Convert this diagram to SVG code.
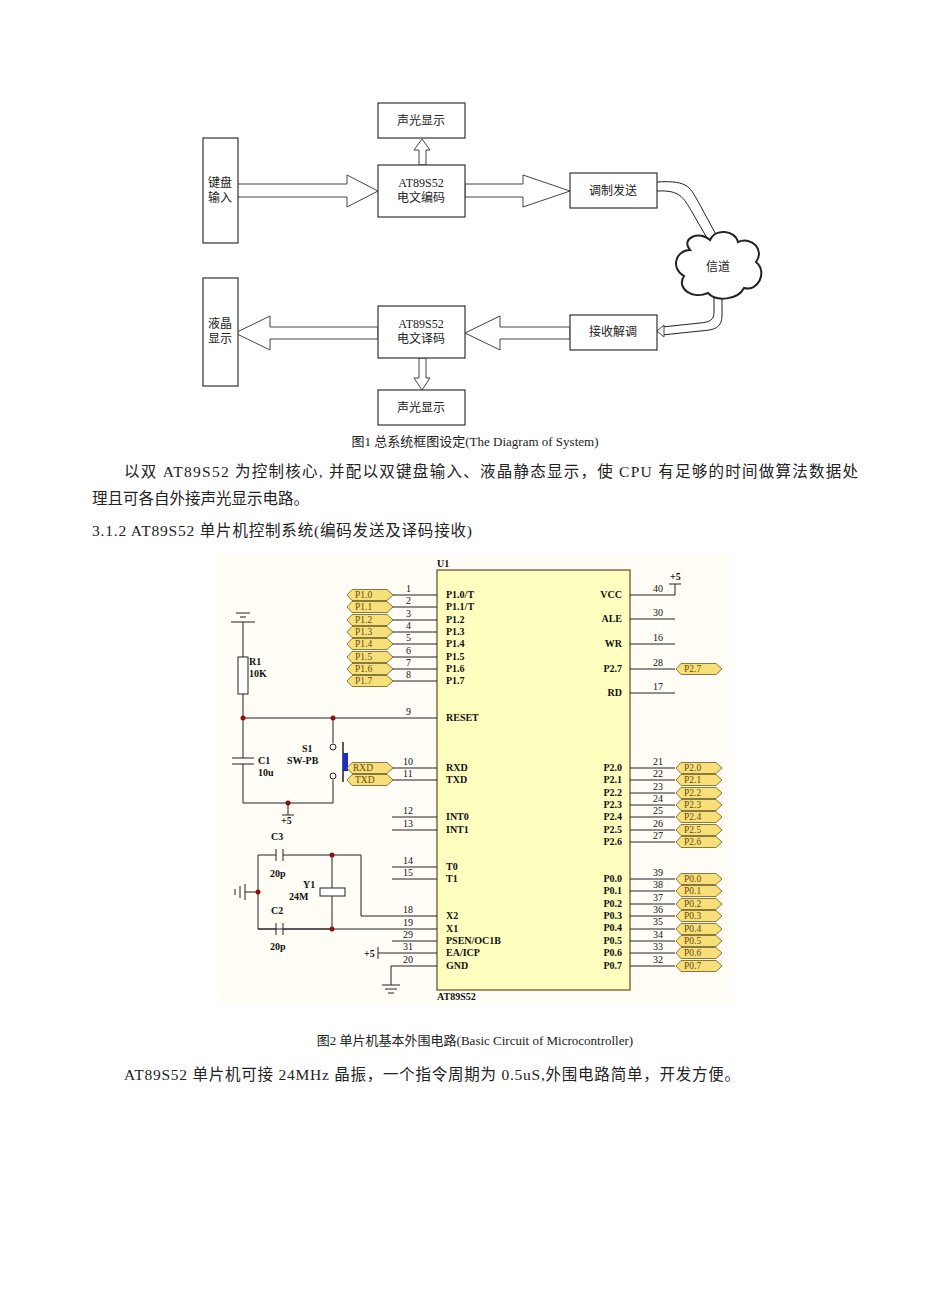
<svg xmlns="http://www.w3.org/2000/svg" width="950" height="1290" viewBox="0 0 950 1290">
<style>
.t{font-family:"Liberation Serif","Noto Sans CJK SC",serif;fill:#222}
.bx{fill:#fff;stroke:#333;stroke-width:1.2}
.ha{fill:#fff;stroke:#444;stroke-width:1}
.w{stroke:#222;stroke-width:1;fill:none}
.c{font-family:"Liberation Serif",serif;font-size:10px;fill:#111;font-weight:bold}
.n{font-family:"Liberation Serif",serif;font-size:10px;fill:#111}
.tag{fill:#f7df7a;stroke:#6b5a20;stroke-width:0.8}
.tt{font-family:"Liberation Serif",serif;font-size:9.5px;fill:#6b4a10}
</style>
<defs>
<polygon id="tg" points="0,0 5,-5.5 40,-5.5 46,0 40,5.5 5,5.5"/>
</defs>
<rect width="950" height="1290" fill="#fff"/>
<g id="connectors-top">
<polygon class="ha" points="235,184 347,184 347,175 378,191 347,207 347,197 235,197"/>
<polygon class="ha" points="465,184 523,184 523,175 570,191 523,207 523,197 465,197"/>
<polygon class="ha" points="419,165 419,150 414,150 422,139 430,150 426,150 426,165"/>
<polygon class="ha" points="570,327 500,327 500,316 465,333 500,350 500,339 570,339"/>
<polygon class="ha" points="378,327 270,327 270,316 235,333 270,350 270,339 378,339"/>
<polygon class="ha" points="419,358 419,378 414,378 422,390 430,378 426,378 426,358"/>
<path class="w" d="M657,182 C690,180 690,188 700,205 L720,242" stroke="#444"/>
<path class="w" d="M657,191 C680,190 683,197 692,212 L711,245" stroke="#444"/>
<path class="w" d="M714,297 L714,312 C714,320 710,322 700,323 L662,327" stroke="#444"/>
<path class="w" d="M722,297 L722,315 C722,328 715,330 700,331 L662,335" stroke="#444"/>
<path class="ha" d="M657,331 L664,325 L664,337 Z"/>
</g>
<g id="n-kbd"><rect class="bx" x="203" y="138" width="35" height="105"/><text class="t" x="220" y="187" font-size="12" text-anchor="middle">键盘</text><text class="t" x="220" y="202" font-size="12" text-anchor="middle">输入</text></g>
<g id="n-sg1"><rect class="bx" x="378" y="103" width="87" height="35"/><text class="t" x="421" y="125" font-size="12" text-anchor="middle">声光显示</text></g>
<g id="n-enc"><rect class="bx" x="378" y="165" width="87" height="52"/><text class="t" x="421" y="187" font-size="12" text-anchor="middle">AT89S52</text><text class="t" x="421" y="202" font-size="12" text-anchor="middle">电文编码</text></g>
<g id="n-mod"><rect class="bx" x="570" y="173" width="87" height="35"/><text class="t" x="613" y="195" font-size="12" text-anchor="middle">调制发送</text></g>
<g id="n-ch"><path d="M690,250 C680,238 700,230 710,240 C715,228 735,230 738,242 C752,236 765,250 756,262 C768,272 758,292 744,288 C738,300 716,302 708,293 C692,300 676,288 684,276 C670,268 676,250 690,250 Z" fill="#fff" stroke="#222" stroke-width="2"/><text class="t" x="718" y="271" font-size="12" text-anchor="middle">信道</text></g>
<g id="n-lcd"><rect class="bx" x="203" y="278" width="35" height="108"/><text class="t" x="220" y="328" font-size="12" text-anchor="middle">液晶</text><text class="t" x="220" y="343" font-size="12" text-anchor="middle">显示</text></g>
<g id="n-dec"><rect class="bx" x="378" y="306" width="87" height="52"/><text class="t" x="421" y="328" font-size="12" text-anchor="middle">AT89S52</text><text class="t" x="421" y="343" font-size="12" text-anchor="middle">电文译码</text></g>
<g id="n-dem"><rect class="bx" x="570" y="315" width="87" height="35"/><text class="t" x="613" y="336" font-size="12" text-anchor="middle">接收解调</text></g>
<g id="n-sg2"><rect class="bx" x="378" y="390" width="87" height="35"/><text class="t" x="421" y="412" font-size="12" text-anchor="middle">声光显示</text></g>
<text class="t" x="475" y="446" font-size="13" text-anchor="middle">图1 总系统框图设定(The Diagram of System)</text>
<text class="t" x="124" y="477" font-size="15.5" textLength="734" lengthAdjust="spacing">以双 AT89S52 为控制核心, 并配以双键盘输入、液晶静态显示，使 CPU 有足够的时间做算法数据处</text>
<text class="t" x="92" y="504" font-size="15.5">理且可各自外接声光显示电路。</text>
<text class="t" x="92" y="536" font-size="15.5" textLength="380" lengthAdjust="spacing">3.1.2 AT89S52 单片机控制系统(编码发送及译码接收)</text>
<rect x="218" y="555" width="514" height="450" fill="#fffdf6"/>
<g id="u1">
<rect x="437" y="570" width="193" height="420" fill="#ffffc0" stroke="#8a6a40" stroke-width="1.5"/>
<text class="c" x="437" y="567">U1</text><text class="c" x="437" y="1000">AT89S52</text>
<g class="c">
<text x="446" y="598">P1.0/T</text><text x="446" y="610">P1.1/T</text><text x="446" y="623">P1.2</text><text x="446" y="635">P1.3</text><text x="446" y="647">P1.4</text><text x="446" y="660">P1.5</text><text x="446" y="672">P1.6</text><text x="446" y="684">P1.7</text>
<text x="446" y="721">RESET</text><text x="446" y="771">RXD</text><text x="446" y="783">TXD</text><text x="446" y="820">INT0</text><text x="446" y="833">INT1</text><text x="446" y="870">T0</text><text x="446" y="882">T1</text>
<text x="446" y="919">X2</text><text x="446" y="932">X1</text><text x="446" y="944">PSEN/OC1B</text><text x="446" y="956">EA/ICP</text><text x="446" y="969">GND</text>
</g>
<g class="c" text-anchor="end">
<text x="622" y="598">VCC</text><text x="622" y="622">ALE</text><text x="622" y="647">WR</text><text x="622" y="672">P2.7</text><text x="622" y="696">RD</text>
<text x="622" y="771">P2.0</text><text x="622" y="783">P2.1</text><text x="622" y="796">P2.2</text><text x="622" y="808">P2.3</text><text x="622" y="820">P2.4</text><text x="622" y="833">P2.5</text><text x="622" y="845">P2.6</text>
<text x="622" y="882">P0.0</text><text x="622" y="894">P0.1</text><text x="622" y="907">P0.2</text><text x="622" y="919">P0.3</text><text x="622" y="931">P0.4</text><text x="622" y="944">P0.5</text><text x="622" y="956">P0.6</text><text x="622" y="969">P0.7</text>
</g>
</g>
<g id="wires" class="w">
<path d="M392,595H437M392,607H437M392,620H437M392,632H437M392,644H437M392,657H437M392,669H437M392,681H437M243,718H437M392,768H437M392,780H437M392,817H437M392,830H437M392,867H437M392,879H437M361,916H437M258,929H437M392,941H437M378,953H437M391,966H437"/>
<path d="M630,595H675M630,619H675M630,644H675M630,669H675M630,693H675M630,768H675M630,780H675M630,793H675M630,805H675M630,817H675M630,830H675M630,842H675M630,879H675M630,891H675M630,904H675M630,916H675M630,929H675M630,941H675M630,953H675M630,966H675"/>
<path d="M675,595V584M669,584H681"/>
<path d="M243,622V657M243,694V758M243,764V803H333V780M333,743V718M288,803V815M282,815H294"/>
<path d="M232,758H254M232,764H254M236,613H250M240,617H246M231,622H255"/>
<path d="M258,855H276M283,855H361V916M258,855V929H276M283,929H332M332,855V888M332,896V929M276,849V861M283,849V861M276,923V935M283,923V935"/>
<path d="M245,892H258M245,884V900M240,886V898M235,889V895"/>
<path d="M391,966V985M382,985H400M385,989H397M388,993H394M378,947V959"/>
</g>
<rect x="238" y="657" width="10" height="37" fill="#fff" stroke="#222"/>
<rect x="320" y="888" width="25" height="8" fill="#fff" stroke="#222"/>
<circle cx="333" cy="747" r="3" fill="#fff" stroke="#222"/><circle cx="333" cy="776" r="3" fill="#fff" stroke="#222"/>
<path d="M343,742V782" stroke="#222" stroke-width="1.5"/><rect x="343" y="753" width="5" height="18" fill="#1a2ad8"/>
<g fill="#8a1010"><circle cx="243" cy="718" r="2.5"/><circle cx="333" cy="718" r="2.5"/><circle cx="288" cy="803" r="2.5"/><circle cx="332" cy="855" r="2.5"/><circle cx="332" cy="929" r="2.5"/><circle cx="258" cy="892" r="2.5"/></g>
<g class="c"><text x="249" y="665">R1</text><text x="249" y="677">10K</text><text x="258" y="764">C1</text><text x="258" y="776">10u</text><text x="302" y="752">S1</text><text x="287" y="764">SW-PB</text>
<text x="281" y="824">+5</text><text x="271" y="840">C3</text><text x="270" y="877">20p</text><text x="303" y="888">Y1</text><text x="289" y="900">24M</text><text x="271" y="914">C2</text><text x="270" y="950">20p</text><text x="364" y="957">+5</text><text x="670" y="580">+5</text></g>
<g class="n">
<text x="406" y="592">1</text><text x="406" y="604">2</text><text x="406" y="617">3</text><text x="406" y="629">4</text><text x="406" y="641">5</text><text x="406" y="654">6</text><text x="406" y="666">7</text><text x="406" y="678">8</text><text x="406" y="715">9</text><text x="403" y="765">10</text><text x="403" y="777">11</text><text x="403" y="814">12</text><text x="403" y="827">13</text><text x="403" y="864">14</text><text x="403" y="876">15</text><text x="403" y="913">18</text><text x="403" y="926">19</text><text x="403" y="938">29</text><text x="403" y="950">31</text><text x="403" y="963">20</text>
<text x="653" y="592">40</text><text x="653" y="616">30</text><text x="653" y="641">16</text><text x="653" y="666">28</text><text x="653" y="690">17</text><text x="653" y="765">21</text><text x="653" y="777">22</text><text x="653" y="790">23</text><text x="653" y="802">24</text><text x="653" y="814">25</text><text x="653" y="827">26</text><text x="653" y="839">27</text><text x="653" y="876">39</text><text x="653" y="888">38</text><text x="653" y="901">37</text><text x="653" y="913">36</text><text x="653" y="925">35</text><text x="653" y="938">34</text><text x="653" y="950">33</text><text x="653" y="963">32</text>
</g>
<g id="tags">
<g class="tag"><use href="#tg" x="347" y="595"/><use href="#tg" x="347" y="607"/><use href="#tg" x="347" y="620"/><use href="#tg" x="347" y="632"/><use href="#tg" x="347" y="644"/><use href="#tg" x="347" y="657"/><use href="#tg" x="347" y="669"/><use href="#tg" x="347" y="681"/><use href="#tg" x="347" y="768"/><use href="#tg" x="347" y="780"/>
<use href="#tg" x="676" y="669"/><use href="#tg" x="676" y="768"/><use href="#tg" x="676" y="780"/><use href="#tg" x="676" y="793"/><use href="#tg" x="676" y="805"/><use href="#tg" x="676" y="817"/><use href="#tg" x="676" y="830"/><use href="#tg" x="676" y="842"/><use href="#tg" x="676" y="879"/><use href="#tg" x="676" y="891"/><use href="#tg" x="676" y="904"/><use href="#tg" x="676" y="916"/><use href="#tg" x="676" y="929"/><use href="#tg" x="676" y="941"/><use href="#tg" x="676" y="953"/><use href="#tg" x="676" y="966"/></g>
<g class="tt"><text x="355" y="598">P1.0</text><text x="355" y="610">P1.1</text><text x="355" y="623">P1.2</text><text x="355" y="635">P1.3</text><text x="355" y="647">P1.4</text><text x="355" y="660">P1.5</text><text x="355" y="672">P1.6</text><text x="355" y="684">P1.7</text><text x="353" y="771">RXD</text><text x="355" y="783">TXD</text>
<text x="684" y="672">P2.7</text><text x="684" y="771">P2.0</text><text x="684" y="783">P2.1</text><text x="684" y="796">P2.2</text><text x="684" y="808">P2.3</text><text x="684" y="820">P2.4</text><text x="684" y="833">P2.5</text><text x="684" y="845">P2.6</text><text x="684" y="882">P0.0</text><text x="684" y="894">P0.1</text><text x="684" y="907">P0.2</text><text x="684" y="919">P0.3</text><text x="684" y="932">P0.4</text><text x="684" y="944">P0.5</text><text x="684" y="956">P0.6</text><text x="684" y="969">P0.7</text></g>
</g>
<text class="t" x="475" y="1045" font-size="13" text-anchor="middle">图2 单片机基本外围电路(Basic Circuit of Microcontroller)</text>
<text class="t" x="124" y="1080" font-size="15.5" textLength="616" lengthAdjust="spacing">AT89S52 单片机可接 24MHz 晶振，一个指令周期为 0.5uS,外围电路简单，开发方便。</text>
</svg>
